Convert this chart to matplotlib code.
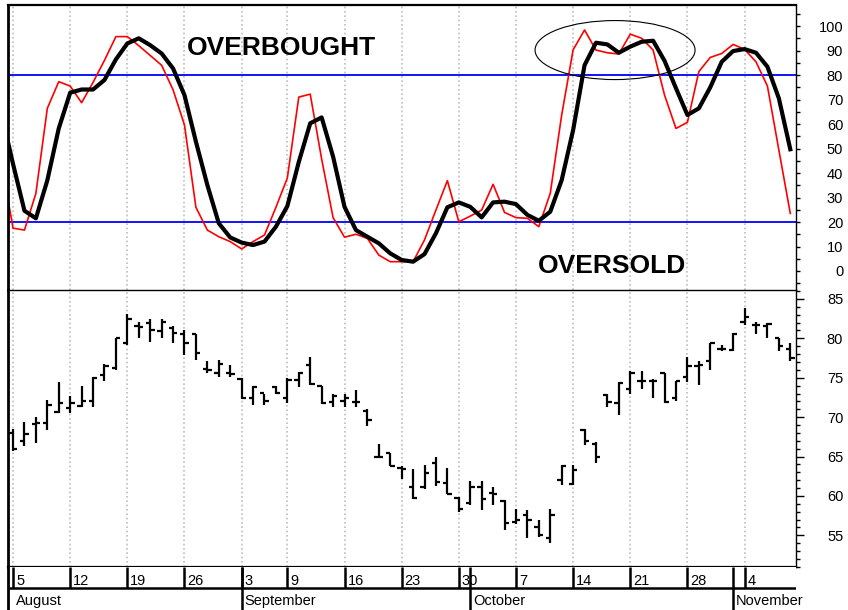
import numpy as np
import pandas as pd
import matplotlib
matplotlib.use("Agg")
import matplotlib.pyplot as plt
import matplotlib.transforms as mtransforms
from matplotlib.patches import Ellipse

narrow = ['Liberation Sans Narrow', 'DejaVu Sans Condensed', 'Liberation Sans', 'DejaVu Sans']
boldfam = ['Liberation Sans', 'DejaVu Sans']

# trading days Aug 5 - Nov 8 2002 (Labor Day closed)
dates = pd.bdate_range('2002-08-05', '2002-11-08')
dates = dates[dates != pd.Timestamp('2002-09-02')]

opens = [67.95, 67.0, 69.1, 69.3, 70.6, 71.1, 71.4, 72.0, 75.3, 76.2,
         79.45, 81.56, 82.0, 80.95, 81.27, 80.56, 80.56, 76.07, 75.6, 75.56,
         74.8, 72.4, 73.02, 73.86, 72.4, 74.7, 76.6, 74.0, 71.96, 72.1,
         71.96, 70.8, 64.98, 65.41, 63.6, 61.18, 61.18, 64.23, 61.6, 59.7,
         59.15, 61.18, 60.42, 59.4, 56.75, 57.6, 56.1, 54.6, 62.0, 61.5,
         68.4, 66.6, 72.8, 71.76, 73.53, 74.6, 74.6, 75.65, 72.4, 75.05,
         76.5, 77.1, 78.6, 78.5, 82.1, 81.7, 81.56, 80.1, 78.6]
highs = [68.45, 69.42, 69.97, 72.18, 74.5, 72.7, 73.97, 75.1, 76.7, 80.1,
         83.05, 82.1, 82.5, 82.46, 81.56, 81.06, 80.56, 77.1, 77.25, 76.6,
         75.0, 73.95, 73.0, 73.9, 75.0, 75.7, 77.6, 74.0, 73.0, 73.0,
         73.4, 71.0, 66.55, 65.41, 63.8, 63.38, 63.93, 64.9, 63.5, 59.9,
         61.94, 61.94, 61.18, 59.5, 58.4, 58.2, 56.95, 58.4, 63.93, 63.93,
         68.5, 66.9, 72.9, 74.5, 75.9, 75.8, 74.8, 75.65, 74.6, 77.6,
         77.1, 79.45, 79.15, 80.64, 83.8, 82.1, 82.0, 80.1, 79.45]
lows = [65.74, 66.33, 66.67, 68.37, 70.5, 70.5, 71.35, 71.35, 74.6, 76.0,
        79.15, 80.1, 79.5, 80.1, 79.36, 77.9, 77.3, 75.56, 75.05, 75.1,
        72.25, 71.55, 71.5, 73.0, 71.75, 73.86, 74.1, 71.67, 71.33, 71.33,
        71.33, 68.9, 64.77, 63.8, 62.2, 59.57, 60.84, 61.27, 60.25, 58.0,
        58.85, 58.2, 58.85, 55.7, 56.5, 54.6, 54.75, 54.0, 61.4, 61.39,
        66.46, 64.15, 71.25, 70.3, 72.9, 73.53, 72.4, 71.8, 72.1, 74.5,
        74.1, 76.0, 78.4, 78.4, 81.7, 80.55, 80.0, 78.4, 77.1]
closes = [65.91, 67.85, 69.3, 71.6, 71.76, 71.8, 72.0, 75.0, 76.5, 80.0,
          82.46, 81.5, 81.1, 82.1, 80.64, 79.45, 78.1, 75.98, 76.7, 75.5,
          72.4, 73.86, 72.1, 73.1, 74.7, 75.56, 74.2, 71.75, 72.7, 72.4,
          71.88, 69.64, 64.9, 63.8, 63.38, 59.7, 62.96, 61.82, 60.25, 58.3,
          61.18, 59.6, 60.25, 56.6, 56.95, 57.0, 55.05, 57.6, 63.85, 63.29,
          67.0, 64.9, 71.97, 74.38, 75.56, 74.6, 74.6, 71.97, 74.6, 76.5,
          76.6, 79.4, 78.6, 80.55, 82.67, 81.7, 81.8, 79.0, 77.45]

# stochastics, first value is the session before Aug 5
k_fast = [44, 17.5, 16.7, 31.7, 66.4, 77.3, 75.5, 68.7, 77, 86,
          95.7, 95.7, 92, 88, 84, 74, 59.6, 26, 16.7, 14,
          12, 9, 12, 14.7, 26, 38, 71, 72.2, 45.7, 21.8,
          13.8, 15, 13.3, 6.5, 3.8, 3.8, 3.8, 12.7, 24.9, 36.9,
          20.1, 22.4, 24.9, 35.4, 23.9, 21.8, 21.5, 18.1, 31.7, 63.7,
          90.3, 98.4, 90.2, 89.1, 88.6, 96.7, 95, 90.2, 71.8, 58.2,
          60.7, 81.4, 87.2, 88.8, 92.5, 90.5, 85.4, 75.5, 49.4, 23.5]
d_slow = [64, 43.7, 24.6, 21.5, 37, 58.2, 72.8, 74.1, 74.1, 78,
          86.4, 92.9, 95, 92.2, 88.8, 82.7, 71.8, 52.8, 35.1, 19.5,
          13.7, 11.6, 10.6, 12, 18.1, 26.5, 44.5, 60.3, 62.7, 46.7,
          26.2, 16.7, 14, 11.3, 7.2, 4.5, 3.8, 6.9, 15.4, 26,
          28, 26.2, 21.9, 28, 28.3, 27.3, 22.9, 20.5, 24.2, 37.1,
          57.5, 84, 93.2, 92.5, 89.1, 91.6, 93.6, 94, 85.8, 74.6,
          63.7, 66.4, 75, 85.4, 89.8, 90.6, 89.1, 83.4, 70.5, 49.7]

W, H = 848, 610
fig = plt.figure(figsize=(W / 100, H / 100), dpi=100)


def box(x0, y0, x1, y1):
    return [x0 / W, 1 - y1 / H, (x1 - x0) / W, (y1 - y0) / H]


x = np.arange(len(dates))
xs = np.arange(-1, len(dates))
xlim = (-0.44, 68.5)

cal = pd.DataFrame({'i': x, 'wk': dates.isocalendar().week.values, 'mo': dates.month})
week_idx = cal.groupby('wk')['i'].min().values
month_idx = cal.groupby('mo')['i'].min().values

ax1 = fig.add_axes(box(8, 5, 796, 290))
ax2 = fig.add_axes(box(8, 290, 796, 567))
ax3 = fig.add_axes(box(8, 567, 796, 610))

grid_kw = dict(color='#bdbdbd', lw=1.2, linestyle=(0, (1, 1.6)), zorder=0)

# --- stochastic panel
ax1.set_xlim(*xlim)
ax1.set_ylim(-7.76, 108.6)
for w in week_idx:
    ax1.axvline(w, **grid_kw)
ax1.axhline(80, color='#0000ff', lw=1.3, zorder=1)
ax1.axhline(20, color='#0000ff', lw=1.3, zorder=1)
ax1.plot(xs, k_fast, color='#ff0000', lw=1.2, zorder=2)
ax1.plot(xs, d_slow, color='black', lw=3, zorder=3)
ax1.add_patch(Ellipse((52.67, 90.2), 14.0, 24.1, fill=False, ec='black', lw=0.8, zorder=4))
ax1.text(23.5, 88.2, 'OVERBOUGHT', ha='center', va='baseline', fontsize=19,
         fontweight='bold', family=boldfam)
ax1.text(52.4, -0.8, 'OVERSOLD', ha='center', va='baseline', fontsize=19,
         fontweight='bold', family=boldfam)
ax1.yaxis.tick_right()
ax1.set_yticks(range(0, 101, 10))
ax1.set_yticks(range(-5, 106, 10), minor=True)
ax1.tick_params(axis='y', which='both', direction='out', length=3, width=1, pad=31,
                labelsize=10.5)
for lab in ax1.get_yticklabels():
    lab.set_horizontalalignment('right')
    lab.set_family(narrow)
ax1.set_xticks([])

# --- price panel
ax2.set_xlim(*xlim)
ax2.set_ylim(50.98, 86.14)
for w in week_idx:
    ax2.axvline(w, **grid_kw)
ax2.vlines(x, lows, highs, color='black', lw=1.6, zorder=2)
ax2.hlines(opens, x - 0.38, x, color='black', lw=1.6, zorder=2)
ax2.hlines(closes, x, x + 0.38, color='black', lw=1.6, zorder=2)
ax2.yaxis.tick_right()
ax2.set_yticks(range(55, 86, 5))
ax2.set_yticks(range(51, 87), minor=True)
ax2.tick_params(axis='y', which='major', direction='out', length=6, width=1, pad=28,
                labelsize=10.5)
ax2.tick_params(axis='y', which='minor', direction='out', length=3, width=1)
for lab in ax2.get_yticklabels():
    lab.set_horizontalalignment('right')
    lab.set_family(narrow)
ax2.set_xticks([])

# --- date label rows
ax3.set_xlim(*xlim)
ax3.set_ylim(0, 1)
ax3.set_xticks([])
ax3.set_yticks([])
mid = 22 / 43
ax3.axhline(mid, color='black', lw=1.8)
ax3.vlines(week_idx, mid, 1, color='black', lw=1.8)
ax3.vlines(month_idx[1:], 0, 1, color='black', lw=1.8)
off = mtransforms.offset_copy(ax3.transData, fig=fig, x=3, y=0, units='dots')
for w in week_idx:
    ax3.text(w, 0.581, str(dates[w].day), transform=off, ha='left', va='baseline',
             fontsize=10.5, family=narrow)
for m in month_idx:
    ax3.text(m, 0.116, dates[m].strftime('%B'), transform=off, ha='left',
             va='baseline', fontsize=10.5, family=narrow)

for ax in (ax1, ax2, ax3):
    for s in ax.spines.values():
        s.set_color('black')
    ax.spines['left'].set_linewidth(2)
ax1.spines['top'].set_linewidth(1.6)
ax1.spines['right'].set_linewidth(1.0)
ax1.spines['bottom'].set_visible(False)
ax2.spines['top'].set_linewidth(1.0)
ax2.spines['right'].set_linewidth(1.0)
ax2.spines['bottom'].set_linewidth(1.6)
ax3.spines['top'].set_visible(False)
ax3.spines['right'].set_visible(False)
ax3.spines['bottom'].set_visible(False)

fig.savefig('out.png', dpi=100)
